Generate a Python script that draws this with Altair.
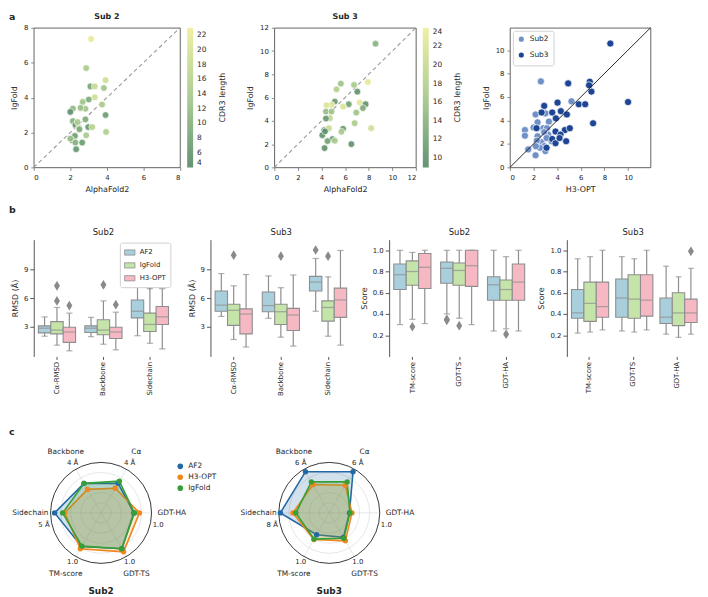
import altair as alt
import pandas as pd

FONT = "DejaVu Sans"
INK = "#262626"
EDGE = "#8e8e8e"

# ---------------- a: scatter data ----------------
SUB2_AF2 = [3.14, 2.87, 3.93, 3.10, 3.34, 3.84, 3.34, 3.01, 2.68, 3.74, 2.83, 2.56, 2.14, 2.00, 3.93, 2.14,
            2.83, 2.28, 2.47, 2.98, 3.20, 2.50, 2.87, 2.25, 2.10, 2.28, 2.65, 2.32, 3.96, 2.00, 2.40]
SUB2_IGF = [7.36, 5.69, 5.00, 4.64, 4.64, 4.55, 4.02, 3.89, 3.75, 3.60, 3.36, 3.41, 3.37, 3.18, 3.00, 2.65,
            2.75, 2.43, 2.27, 2.31, 2.31, 2.18, 1.84, 1.80, 1.55, 1.42, 1.42, 1.04, 2.03, 1.65, 2.60]
SUB2_CDR3 = [22, 14, 19, 8, 18, 13, 19, 9, 13, 14, 13, 12, 11, 5, 7, 10, 9, 6, 15, 6, 16, 9, 14, 7, 6, 10, 7,
             6, 15, 12, 14]

SUB3_AF2 = [8.58, 5.64, 6.76, 7.93, 5.27, 7.04, 5.13, 4.85, 6.31, 7.24, 7.74, 7.51, 4.43, 4.38, 4.85, 6.95,
            4.71, 4.38, 5.83, 6.81, 8.21, 4.23, 4.63, 5.83, 5.69, 4.07, 4.93, 5.13, 4.51, 6.53, 4.26, 4.30]
SUB3_IGF = [10.63, 7.20, 7.09, 7.34, 6.71, 6.51, 5.66, 5.37, 5.43, 5.57, 5.43, 5.10, 5.34, 4.80, 4.80, 4.71,
            4.23, 4.20, 5.23, 3.80, 3.37, 3.20, 3.37, 3.32, 3.06, 2.77, 2.43, 2.29, 2.26, 2.00, 1.66, 3.10]
SUB3_CDR3 = [14, 16, 17, 23, 18, 10, 11, 22, 12, 23, 10, 13, 22, 15, 16, 16, 19, 11, 22, 17, 21, 10, 20, 11,
             17, 10, 10, 17, 12, 10, 10, 10]

P3_SUB2_H3 = [2.62, 5.21, 2.17, 3.00, 2.34, 3.30, 1.27, 2.82, 3.13, 1.27, 2.34, 3.24, 3.52, 2.68, 2.28, 2.90,
              1.55, 3.00, 2.17, 2.54, 2.90, 2.20, 3.10, 2.00]
P3_SUB2_IGF = [7.33, 5.63, 4.51, 4.60, 3.84, 3.90, 3.18, 3.34, 3.34, 2.70, 2.65, 2.79, 2.23, 2.14, 2.28, 1.81,
               1.53, 1.39, 1.03, 1.67, 3.00, 1.80, 2.50, 3.40]
P3_SUB3_H3 = [8.50, 4.93, 6.76, 6.90, 10.00, 4.03, 5.83, 6.37, 2.90, 2.68, 3.58, 4.31, 4.82, 3.89, 2.25, 3.86,
              4.65, 4.28, 7.04, 3.58, 3.86, 4.76, 3.10, 5.07, 6.70, 4.20]
P3_SUB3_IGF = [10.56, 7.16, 7.30, 6.46, 5.57, 5.52, 5.38, 5.38, 5.24, 4.68, 4.68, 4.79, 4.51, 4.18, 3.34, 3.06,
               3.18, 2.79, 3.76, 2.42, 2.06, 2.23, 1.67, 3.34, 7.00, 2.50]

CDR_COLORS = ["#578a68", "#a7c88c", "#f0ee9c"]
SUB_COLORS = ["#7090c8", "#1d4594"]

# ---------------- b: box statistics (low whisker, q1, median, q3, high whisker) ----------------
MODELS = ["AF2", "IgFold", "H3-OPT"]
BOX_COLORS = ["#a9cfdd", "#c5e4a9", "#f6b9c4"]
RMSD_METRICS = ["Cα-RMSD", "Backbone", "Sidechain"]
SCORE_METRICS = ["TM-score", "GDT-TS", "GDT-HA"]

SUB2_RMSD = [
    [(1.95, 2.30, 2.80, 3.05, 4.00), (1.00, 2.20, 2.60, 3.50, 5.00), (0.40, 1.30, 2.40, 2.90, 4.40)],
    [(1.90, 2.35, 2.80, 3.05, 3.95), (1.10, 2.10, 2.60, 3.70, 5.70), (0.50, 1.70, 2.40, 2.90, 4.50)],
    [(2.00, 3.90, 4.60, 5.80, 7.30), (1.20, 2.45, 3.20, 4.40, 7.00), (0.60, 3.20, 4.00, 5.10, 7.00)],
]
SUB2_RMSD_OUT = [("Cα-RMSD", "IgFold", 5.7), ("Cα-RMSD", "IgFold", 7.3), ("Cα-RMSD", "H3-OPT", 5.2),
                 ("Backbone", "IgFold", 7.4), ("Backbone", "H3-OPT", 5.3), ("Sidechain", "IgFold", 7.35)]
SUB3_RMSD = [
    [(4.05, 4.60, 5.25, 6.75, 8.60), (1.60, 3.10, 4.70, 5.35, 7.30), (0.80, 2.20, 4.30, 4.85, 8.50)],
    [(3.85, 4.55, 5.20, 6.65, 8.35), (1.85, 3.20, 4.55, 5.35, 7.10), (0.90, 2.55, 4.20, 4.90, 8.45)],
    [(4.60, 6.75, 7.70, 8.30, 10.20), (1.95, 3.55, 5.00, 5.70, 8.25), (1.00, 3.95, 5.80, 7.05, 11.05)],
]
SUB3_RMSD_OUT = [("Cα-RMSD", "IgFold", 10.55), ("Backbone", "IgFold", 10.45), ("Sidechain", "AF2", 11.1),
                 ("Sidechain", "IgFold", 10.45)]
SUB2_SCORE = [
    [(0.30, 0.63, 0.77, 0.87, 1.00), (0.35, 0.67, 0.80, 0.90, 0.98), (0.31, 0.64, 0.84, 0.97, 1.00)],
    [(0.40, 0.69, 0.83, 0.89, 1.00), (0.36, 0.67, 0.81, 0.88, 1.00), (0.30, 0.66, 0.855, 1.00, 1.00)],
    [(0.24, 0.53, 0.675, 0.75, 1.00), (0.26, 0.53, 0.63, 0.72, 0.94), (0.24, 0.53, 0.70, 0.87, 1.00)],
]
SUB2_SCORE_OUT = [("TM-score", "IgFold", 0.28), ("GDT-TS", "AF2", 0.34), ("GDT-TS", "AF2", 0.35),
                  ("GDT-TS", "IgFold", 0.29), ("GDT-HA", "IgFold", 0.21)]
SUB3_SCORE = [
    [(0.22, 0.36, 0.41, 0.63, 0.92), (0.23, 0.33, 0.50, 0.70, 0.94), (0.25, 0.37, 0.47, 0.70, 1.00)],
    [(0.24, 0.37, 0.55, 0.73, 0.94), (0.23, 0.36, 0.54, 0.77, 0.92), (0.25, 0.38, 0.53, 0.77, 1.00)],
    [(0.21, 0.31, 0.37, 0.55, 0.85), (0.18, 0.29, 0.41, 0.60, 0.75), (0.21, 0.32, 0.41, 0.54, 0.83)],
]
SUB3_SCORE_OUT = [("GDT-HA", "H3-OPT", 0.99)]

# ---------------- c: radar data ----------------
RADAR_AXES = ["GDT-HA", "Cα", "Backbone", "Sidechain", "TM-score", "GDT-TS"]
RADAR_ANGLES = [0, 60, 120, 180, 240, 300]
RADAR_GRID = [0.2, 0.4, 0.6, 0.8]
RADAR_MODELS = ["AF2", "H3-OPT", "IgFold"]
RADAR_COLORS = ["#2369a6", "#f0861e", "#35a035"]
SUB2_RADAR_MAX = [1.0, 4, 4, 5, 1.0, 1.0]
SUB2_RADAR_AF2 = [0.65, 2.70, 2.70, 4.60, 0.77, 0.82]
SUB2_RADAR_H3 = [0.76, 2.25, 2.15, 3.60, 0.82, 0.89]
SUB2_RADAR_IGF = [0.66, 2.90, 2.70, 3.80, 0.76, 0.82]
SUB2_RADAR_TICKS = ["1.0", "4 Å", "4 Å", "5 Å", "1.0", "1.0"]
SUB3_RADAR_MAX = [1.0, 6, 6, 8, 1.0, 1.0]
SUB3_RADAR_AF2 = [0.40, 5.65, 5.65, 7.75, 0.50, 0.56]
SUB3_RADAR_H3 = [0.45, 3.80, 3.90, 5.75, 0.61, 0.64]
SUB3_RADAR_IGF = [0.41, 4.25, 4.25, 5.30, 0.60, 0.58]
SUB3_RADAR_TICKS = ["1.0", "6 Å", "6 Å", "8 Å", "1.0", "1.0"]


def note(text, dx, dy, size=8, weight="normal", align="center", angle=0):
    return alt.Chart(pd.DataFrame({"t": [text]})).mark_text(
        align=align, baseline="middle", fontSize=size, fontWeight=weight, color=INK, font=FONT, angle=angle
    ).encode(text="t:N", x=alt.value(dx), y=alt.value(dy))


def frame_axis(ticks, title):
    return alt.Axis(values=ticks, title=title, domain=False, grid=False, tickSize=3, labelPadding=3,
                    titlePadding=5, labelFontSize=7, titleFontSize=8)


def scatter_cdr(xv, yv, cv, title, dmax, ticks, cmin, cmax, cvals, W, H, extra=()):
    df = pd.DataFrame({"x": xv, "y": yv, "cdr": cv})
    sc = alt.Scale(domain=[0, dmax], nice=False, zero=False)
    ax = frame_axis(ticks, "AlphaFold2")
    ay = frame_axis(ticks, "IgFold")
    diag = alt.Chart(pd.DataFrame({"a": [0], "b": [dmax]})).mark_rule(
        color="#9a9a9a", strokeDash=[4, 3], strokeWidth=1.1
    ).encode(x=alt.X("a:Q", scale=sc, axis=ax), y=alt.Y("a:Q", scale=sc, axis=ay), x2="b:Q", y2="b:Q")
    pts = alt.Chart(df).mark_circle(size=46, opacity=0.92, stroke="white", strokeWidth=0.7).encode(
        x=alt.X("x:Q", scale=sc, axis=ax),
        y=alt.Y("y:Q", scale=sc, axis=ay),
        color=alt.Color("cdr:Q", scale=alt.Scale(domain=[cmin, (cmin + cmax) / 2, cmax], range=CDR_COLORS),
                        legend=alt.Legend(type="gradient", direction="vertical", orient="right", offset=7,
                                          gradientLength=H, gradientThickness=6, values=cvals,
                                          title=None, labelFontSize=7.5, labelOffset=4, labelOverlap=False,
                                          gradientStrokeWidth=0, padding=0)),
    )
    layers = [diag, pts,
              note("CDR3 length", W + 43, H / 2, size=8, angle=270),
              note(title, W / 2, -11, size=8, weight="bold")] + list(extra)
    return alt.layer(*layers).properties(
        width=W, height=H, view=alt.ViewBackground(stroke="#3a3a3a", strokeWidth=0.8))


def scatter_sub(W, H):
    df = pd.concat([
        pd.DataFrame({"x": P3_SUB2_H3, "y": P3_SUB2_IGF, "grp": "Sub2"}),
        pd.DataFrame({"x": P3_SUB3_H3, "y": P3_SUB3_IGF, "grp": "Sub3"}),
    ])
    sc = alt.Scale(domain=[0, 11.9], nice=False, zero=False)
    ticks = [0, 2, 4, 6, 8, 10]
    ax = frame_axis(ticks, "H3-OPT")
    ay = frame_axis(ticks, "IgFold")
    pts = alt.Chart(df).mark_circle(size=52, opacity=1, stroke="white", strokeWidth=0.7).encode(
        x=alt.X("x:Q", scale=sc, axis=ax), y=alt.Y("y:Q", scale=sc, axis=ay),
        color=alt.Color("grp:N", scale=alt.Scale(domain=["Sub2", "Sub3"], range=SUB_COLORS),
                        legend=alt.Legend(title=None, orient="top-left", offset=3, fillColor="white",
                                          strokeColor="#d0d0d0", padding=4, symbolType="circle",
                                          symbolSize=45, labelFontSize=7.5, cornerRadius=2, rowPadding=3)),
    )
    diag = alt.Chart(pd.DataFrame({"a": [0], "b": [11.9]})).mark_rule(color="#111", strokeWidth=0.9).encode(
        x=alt.X("a:Q", scale=sc, axis=ax), y=alt.Y("a:Q", scale=sc, axis=ay), x2="b:Q", y2="b:Q")
    return alt.layer(pts, diag).properties(
        width=W, height=H, view=alt.ViewBackground(stroke="#3a3a3a", strokeWidth=0.8))


def box_panel(metrics, stats, outs, title, ydom, yticks, yfmt, ytitle, W, H, legend=False, extra=()):
    rows = []
    for mi, m in enumerate(metrics):
        for k, mod in enumerate(MODELS):
            lo, q1, med, q3, hi = stats[mi][k]
            rows.append(dict(metric=m, Model=mod, lo=lo, q1=q1, med=med, q3=q3, hi=hi))
    df = pd.DataFrame(rows)
    odf = pd.DataFrame(outs, columns=["metric", "Model", "v"])
    box_w = W / 3 * 0.8 / 3
    xax = alt.Axis(title=None, labelAngle=270, domain=False, tickSize=3, labelPadding=2, labelFontSize=7,
                   tickColor="#555")
    X = alt.X("metric:N", sort=metrics, scale=alt.Scale(paddingInner=0, paddingOuter=0), axis=xax)
    XO = alt.XOffset("Model:N", sort=MODELS, scale=alt.Scale(paddingInner=0, paddingOuter=0.375))
    ysc = alt.Scale(domain=ydom, nice=False, zero=False)
    yax = alt.Axis(values=yticks, format=yfmt, title=ytitle, grid=False, tickSize=4, labelPadding=2,
                   titlePadding=4, domainColor="#555", tickColor="#555", labelFontSize=7, titleFontSize=8)
    base = alt.Chart(df)
    whisk = base.mark_rule(color=EDGE, strokeWidth=1.2).encode(
        x=X, xOffset=XO, y=alt.Y("lo:Q", scale=ysc, axis=yax), y2="hi:Q")
    cap_lo = base.mark_tick(color=EDGE, thickness=1.2, size=box_w * 0.5).encode(
        x=X, xOffset=XO, y=alt.Y("lo:Q", scale=ysc, axis=yax))
    cap_hi = base.mark_tick(color=EDGE, thickness=1.2, size=box_w * 0.5).encode(
        x=X, xOffset=XO, y=alt.Y("hi:Q", scale=ysc, axis=yax))
    if legend:
        leg = alt.Legend(title=None, orient="top-right", offset=3, symbolType="M-1,-0.5H1V0.5H-1Z",
                         symbolSize=110, symbolStrokeColor=EDGE, symbolStrokeWidth=0.8, fillColor="white",
                         strokeColor="#d0d0d0", padding=4, labelFontSize=7, rowPadding=2, cornerRadius=2)
    else:
        leg = None
    box = base.mark_bar(stroke=EDGE, strokeWidth=1.1).encode(
        x=X, xOffset=XO, y=alt.Y("q1:Q", scale=ysc, axis=yax), y2="q3:Q",
        color=alt.Color("Model:N", scale=alt.Scale(domain=MODELS, range=BOX_COLORS), legend=leg))
    med = base.mark_tick(color=EDGE, thickness=1.3, size=box_w).encode(
        x=X, xOffset=XO, y=alt.Y("med:Q", scale=ysc, axis=yax))
    out = alt.Chart(odf).mark_point(shape="M0,-1L0.62,0L0,1L-0.62,0Z", filled=True, color="#8a8a8a",
                                    size=95, opacity=1).encode(
        x=X, xOffset=XO, y=alt.Y("v:Q", scale=ysc, axis=yax))
    layers = [whisk, cap_lo, cap_hi, box, med, out, note(title, W / 2, -8, size=8.5)] + list(extra)
    return alt.layer(*layers).properties(width=W, height=H)


def radar(title, maxes, af2, h3, igf, ticks, legend, extra=()):
    R = 51
    HALF = 68
    W = 2 * HALF
    xs = alt.Scale(domain=[-HALF / R, HALF / R], nice=False, zero=False)
    ys = alt.Scale(domain=[-1, 1], nice=False, zero=False)
    ax_df = pd.DataFrame({"axis": RADAR_AXES, "ang": RADAR_ANGLES, "tick": ticks})
    base_ax = alt.Chart(ax_df).transform_calculate(
        cx="cos(datum.ang*PI/180)", cy="sin(datum.ang*PI/180)", z="0")
    spokes = base_ax.mark_rule(color="#d6d6d6", strokeWidth=0.6).encode(
        x=alt.X("z:Q", scale=xs, axis=None), y=alt.Y("z:Q", scale=ys, axis=None), x2="cx:Q", y2="cy:Q")
    ssc = alt.Scale(type="pow", exponent=2, domain=[0, 1], range=[0, (2 * R) ** 2])
    grid = alt.Chart(pd.DataFrame({"r": RADAR_GRID})).transform_calculate(z="0").mark_point(
        shape="circle", filled=False, color="#d6d6d6", strokeWidth=0.6, opacity=1
    ).encode(x=alt.X("z:Q", scale=xs, axis=None), y=alt.Y("z:Q", scale=ys, axis=None),
             size=alt.Size("r:Q", scale=ssc, legend=None))
    outer = alt.Chart(pd.DataFrame({"r": [1.0]})).transform_calculate(z="0").mark_point(
        shape="circle", filled=False, color="#222", strokeWidth=0.9, opacity=1
    ).encode(x=alt.X("z:Q", scale=xs, axis=None), y=alt.Y("z:Q", scale=ys, axis=None),
             size=alt.Size("r:Q", scale=ssc, legend=None))

    rows = []
    for mod, vals in zip(RADAR_MODELS, (af2, h3, igf)):
        for i in range(7):
            j = i % 6
            rows.append(dict(method=mod, ord=i, ang=RADAR_ANGLES[j] + (360 if i == 6 else 0),
                             r=vals[j] / maxes[j]))
    pdf = pd.DataFrame(rows)
    pbase = alt.Chart(pdf).transform_calculate(
        px="datum.r*cos(datum.ang*PI/180)", py="datum.r*sin(datum.ang*PI/180)")
    polys = []
    for mod, col in zip(RADAR_MODELS, RADAR_COLORS):
        polys.append(pbase.transform_filter(f"datum.method == '{mod}'").mark_line(
            fill=col, fillOpacity=0.2, stroke=col, strokeWidth=1.6
        ).encode(x=alt.X("px:Q", scale=xs, axis=None), y=alt.Y("py:Q", scale=ys, axis=None), order="ord:Q"))
    if legend:
        leg = alt.Legend(title=None, orient="right", offset=8, symbolType="circle",
                         symbolSize=32, labelFontSize=7.5, rowPadding=3, padding=0)
    else:
        leg = None
    dots = pbase.transform_filter("datum.ord < 6").mark_circle(size=30, opacity=1).encode(
        x=alt.X("px:Q", scale=xs, axis=None), y=alt.Y("py:Q", scale=ys, axis=None),
        color=alt.Color("method:N", scale=alt.Scale(domain=RADAR_MODELS, range=RADAR_COLORS), legend=leg))
    names = base_ax.transform_calculate(
        tx="1.4*cos(datum.ang*PI/180)", ty="1.4*sin(datum.ang*PI/180)"
    ).mark_text(fontSize=7.5, color=INK, font=FONT).encode(
        x=alt.X("tx:Q", scale=xs, axis=None), y=alt.Y("ty:Q", scale=ys, axis=None), text="axis:N")
    tk_diag = base_ax.transform_filter("datum.ang % 180 != 0").transform_calculate(
        tx="1.13*cos(datum.ang*PI/180)", ty="1.13*sin(datum.ang*PI/180)"
    ).mark_text(fontSize=7, color=INK, font=FONT).encode(
        x=alt.X("tx:Q", scale=xs, axis=None), y=alt.Y("ty:Q", scale=ys, axis=None), text="tick:N")
    tk_side = base_ax.transform_filter("datum.ang % 180 == 0").transform_calculate(
        tx="1.13*cos(datum.ang*PI/180)", ty="0"
    ).mark_text(fontSize=7, color=INK, font=FONT, dy=12).encode(
        x=alt.X("tx:Q", scale=xs, axis=None), y=alt.Y("ty:Q", scale=ys, axis=None), text="tick:N")
    layers = [grid, spokes, outer] + polys + [dots, names, tk_diag, tk_side,
                                              note(title, HALF, 2 * R + 28, size=9, weight="bold")] + list(extra)
    return alt.layer(*layers).properties(width=W, height=2 * R)


def indep(ch):
    return ch.resolve_scale(color="independent", size="independent").resolve_legend(
        color="independent", size="independent")


# ---------------- assemble ----------------
HA = 141
a1 = scatter_cdr(SUB2_AF2, SUB2_IGF, SUB2_CDR3, "Sub 2", 8, [0, 2, 4, 6, 8], 4, 23,
                 [4, 6, 8, 10, 12, 14, 16, 18, 20, 22], 147.7, HA,
                 extra=[note("a", -25, -11, size=9.5, weight="bold", align="left")])
a2 = scatter_cdr(SUB3_AF2, SUB3_IGF, SUB3_CDR3, "Sub 3", 12, [0, 2, 4, 6, 8, 10, 12], 9, 24,
                 [10, 12, 14, 16, 18, 20, 22, 24], 143, HA)
a3 = scatter_sub(142, HA)
rowA = indep(alt.hconcat(a1, a2, a3, spacing=95, bounds="flush"))

HB = 118
RD = [-0.2, 12.2]
SD = [0, 1.1]
b1 = box_panel(RMSD_METRICS, SUB2_RMSD, SUB2_RMSD_OUT, "Sub2", RD, [3, 6, 9], "d", "RMSD (Å)", 140.8, HB,
               legend=True, extra=[note("b", -25, -30, size=9.5, weight="bold", align="left")])
b2 = box_panel(RMSD_METRICS, SUB3_RMSD, SUB3_RMSD_OUT, "Sub3", RD, [3, 6, 9], "d", "RMSD (Å)", 143, HB)
b3 = box_panel(SCORE_METRICS, SUB2_SCORE, SUB2_SCORE_OUT, "Sub2", SD, [0.2, 0.4, 0.6, 0.8, 1.0], ".1f",
               "Score", 142, HB)
b4 = box_panel(SCORE_METRICS, SUB3_SCORE, SUB3_SCORE_OUT, "Sub3", SD, [0.2, 0.4, 0.6, 0.8, 1.0], ".1f",
               "Score", 134, HB)
rowB = indep(alt.hconcat(b1, b2, b3, b4, spacing=37.5, bounds="flush"))

c1 = radar("Sub2", SUB2_RADAR_MAX, SUB2_RADAR_AF2, SUB2_RADAR_H3, SUB2_RADAR_IGF, SUB2_RADAR_TICKS, True,
           extra=[note("c", -25, -31, size=9.5, weight="bold", align="left")])
c2 = radar("Sub3", SUB3_RADAR_MAX, SUB3_RADAR_AF2, SUB3_RADAR_H3, SUB3_RADAR_IGF, SUB3_RADAR_TICKS, False)
rowC = indep(alt.hconcat(c1, c2, spacing=94.5, bounds="flush"))

inner = indep(alt.vconcat(rowA, rowB, spacing=11))
chart = indep(alt.vconcat(inner, rowC, spacing=31)).properties(
    padding=0
).configure(font=FONT).configure_view(stroke=None).configure_axis(
    labelColor=INK, titleColor=INK, labelFont=FONT, titleFont=FONT, titleFontWeight="normal"
).configure_legend(labelColor=INK, labelFont=FONT)

chart.save("out.html", embed_options={"renderer": "svg", "actions": False})
